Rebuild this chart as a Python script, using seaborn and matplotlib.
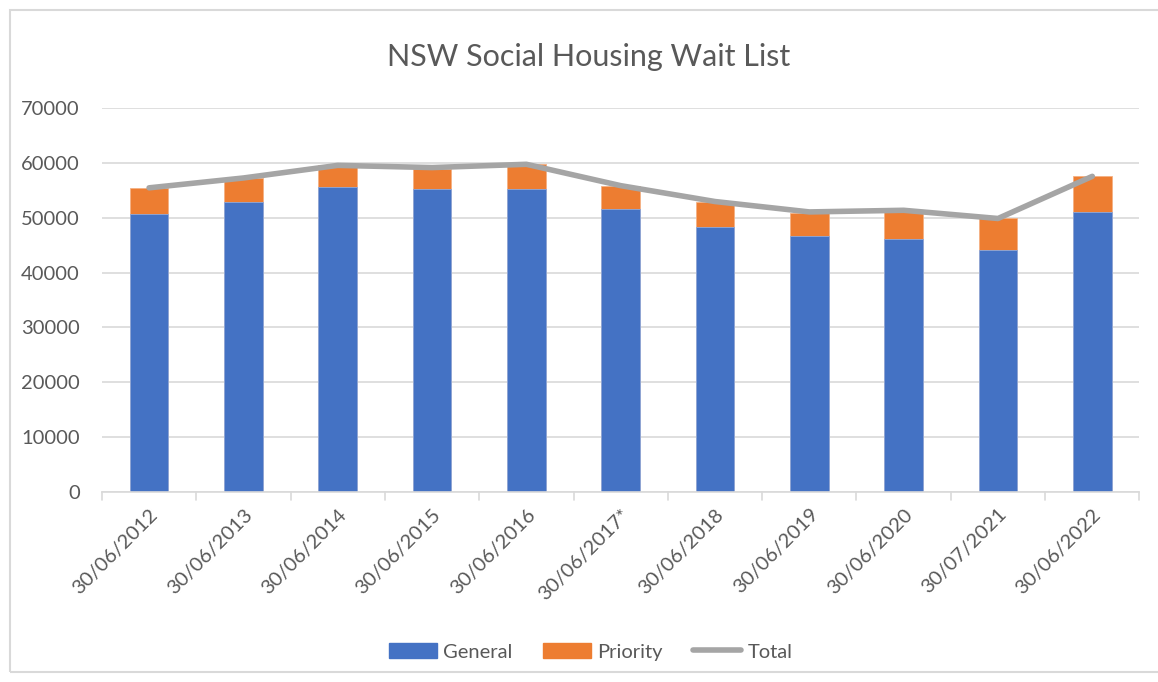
import numpy as np
import pandas as pd
import seaborn as sns
import matplotlib.pyplot as plt
from matplotlib.patches import Rectangle
from matplotlib.lines import Line2D

# datos
fechas = ["30/06/2012", "30/06/2013", "30/06/2014", "30/06/2015", "30/06/2016",
          "30/06/2017*", "30/06/2018", "30/06/2019", "30/06/2020", "30/07/2021",
          "30/06/2022"]
general = [50640, 52890, 55570, 55320, 55320, 51550, 48320, 46620, 46130, 44120, 51060]
priority = [4750, 4330, 4080, 3540, 4510, 4260, 4620, 4200, 5290, 5790, 6580]
total = [55500, 57300, 59600, 59200, 59800, 55900, 53000, 51100, 51400, 49900, 57600]

df = pd.DataFrame({"fecha": fechas, "general": general, "priority": priority, "total": total})
df["stack"] = df["general"] + df["priority"]

azul = "#4472C4"
naranja = "#ED7D31"
gris = "#A5A5A5"
texto = "#595959"

sns.set_style("white")
plt.rcParams["font.family"] = ["Lato", "DejaVu Sans"]

fig = plt.figure(figsize=(11.58, 6.82), dpi=100)
ax = fig.add_axes([0.088, 0.279, 0.896, 0.562])

# borde del grafico
fig.patches.append(Rectangle((10 / 1158, 10 / 682), 1.2, 662 / 682, transform=fig.transFigure,
                             fill=False, edgecolor="#D9D9D9", linewidth=1.5))

sns.barplot(data=df, x="fecha", y="stack", color=naranja, width=0.41, saturation=1,
            edgecolor="#F4B183", linewidth=0.6, ax=ax)
sns.barplot(data=df, x="fecha", y="general", color=azul, width=0.41, saturation=1,
            edgecolor="#8FAADC", linewidth=0.6, ax=ax)
sns.pointplot(data=df, x="fecha", y="total", color=gris, markers="", linewidth=4,
              ax=ax)

ax.set_ylim(0, 70000)
ax.set_xlim(-0.5, len(fechas) - 0.5)
ax.set_yticks(np.arange(0, 70001, 10000))
ax.yaxis.grid(True, color="#D9D9D9", linewidth=1.2)
ax.set_axisbelow(True)
for s in ["top", "right", "left"]:
    ax.spines[s].set_visible(False)
ax.spines["bottom"].set_color("#D9D9D9")
ax.spines["bottom"].set_linewidth(1.2)

ax.set_xlabel("")
ax.set_ylabel("")
ax.tick_params(axis="y", length=0, labelsize=14.5, labelcolor=texto, pad=16)
ax.tick_params(axis="x", length=0, labelsize=14.5, labelcolor=texto, pad=10)
ax.set_xticks(range(len(fechas)))
ax.set_xticklabels(fechas, rotation=45, ha="right", rotation_mode="anchor")

# marcas entre categorias
for b in np.arange(-0.5, len(fechas), 1.0):
    ax.plot([b, b], [0, -1500], color="#D9D9D9", linewidth=1.2, clip_on=False)

fig.text(0.508, 0.917, "NSW Social Housing Wait List", ha="center", va="center",
         fontsize=22, color=texto)

handles = [Rectangle((0, 0), 1, 1, color=azul),
           Rectangle((0, 0), 1, 1, color=naranja),
           Line2D([0], [0], color=gris, linewidth=4)]
fig.legend(handles, ["General", "Priority", "Total"], loc="center", ncol=3,
           bbox_to_anchor=(0.51, 0.044), frameon=False, fontsize=14.5,
           labelcolor=texto, handlelength=2.4, handleheight=0.7, columnspacing=1.5,
           handletextpad=0.3)

plt.savefig("out.png", dpi=100)
